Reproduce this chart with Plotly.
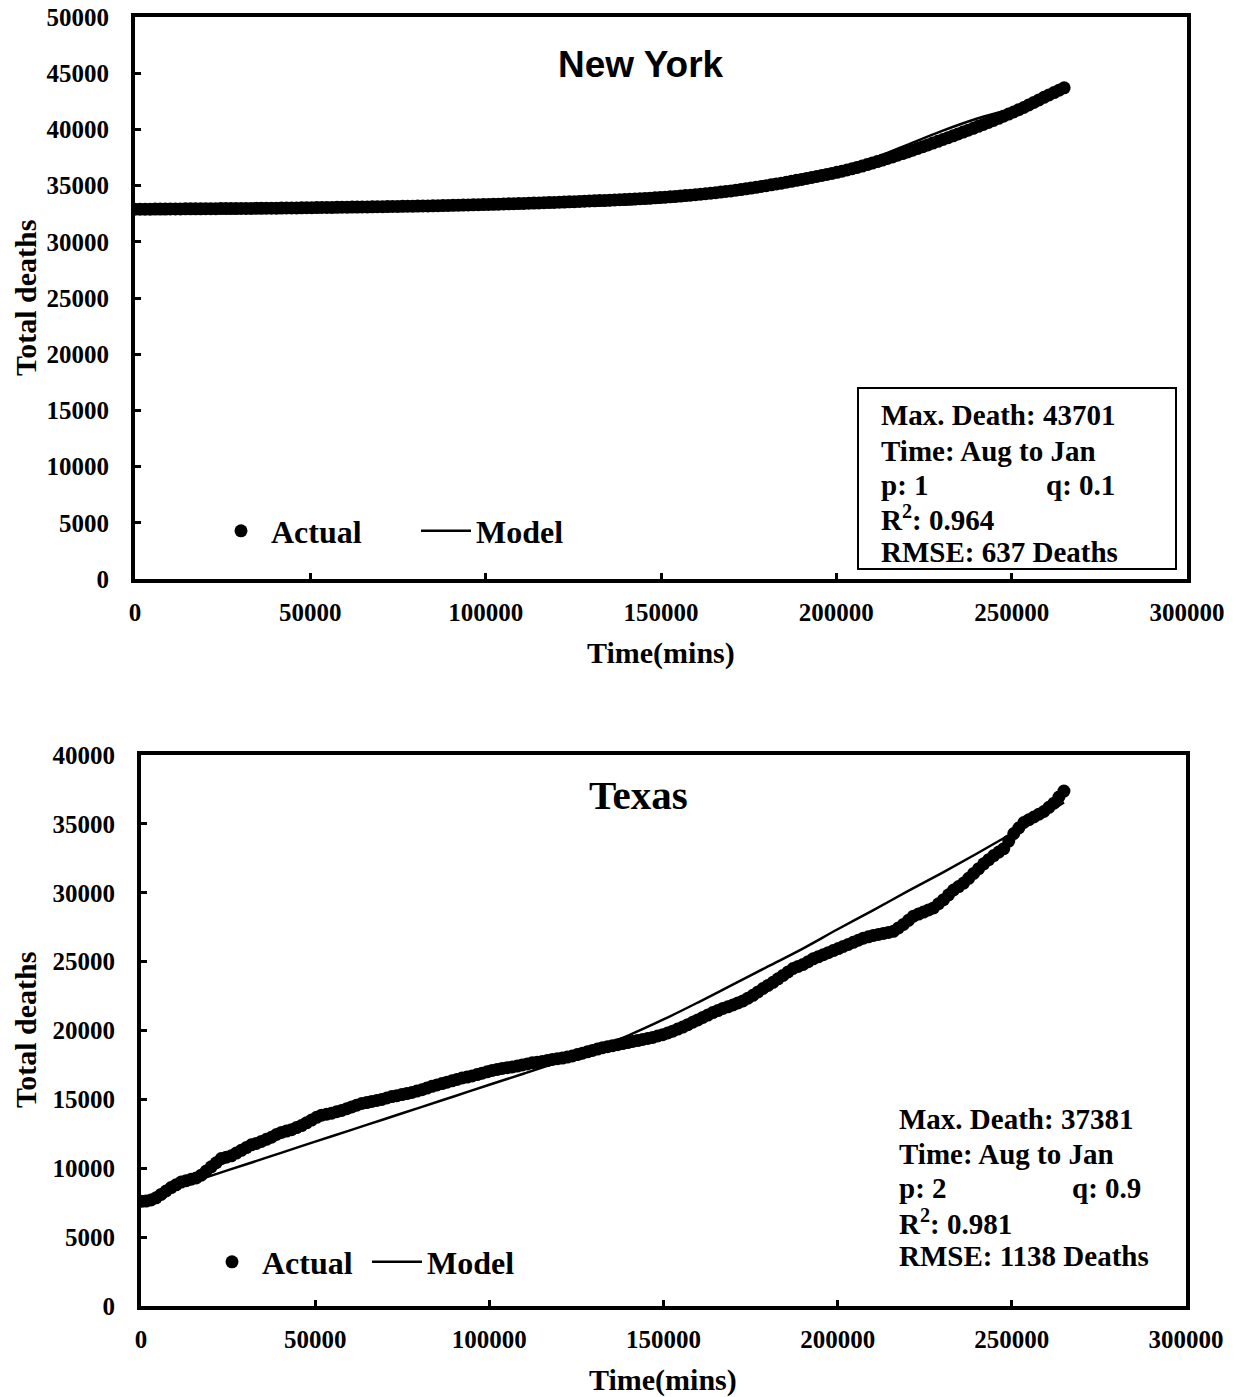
import plotly.graph_objects as go

# Daily sampling from August to January, time in minutes
days = list(range(0, 185))
time_mins = [d * 1440 for d in days]

ny_actual = [
    32900, 32902, 32905, 32907, 32910, 32912, 32915, 32917, 32920, 32925,
    32930, 32932, 32935, 32937, 32940, 32945, 32950, 32952, 32955, 32957,
    32960, 32965, 32970, 32972, 32975, 32980, 32985, 32990, 32995, 33000,
    33005, 33010, 33015, 33022, 33030, 33037, 33045, 33050, 33055, 33060,
    33065, 33072, 33080, 33085, 33090, 33097, 33105, 33112, 33120, 33127,
    33135, 33142, 33150, 33157, 33165, 33172, 33180, 33187, 33195, 33205,
    33215, 33225, 33235, 33245, 33255, 33267, 33280, 33290, 33300, 33312,
    33325, 33337, 33350, 33362, 33375, 33387, 33400, 33415, 33430, 33445,
    33460, 33475, 33490, 33505, 33520, 33537, 33555, 33572, 33590, 33610,
    33630, 33647, 33665, 33682, 33700, 33720, 33740, 33760, 33780, 33805,
    33830, 33855, 33880, 33910, 33940, 33970, 34000, 34035, 34070, 34110,
    34150, 34190, 34230, 34275, 34320, 34370, 34420, 34475, 34530, 34590,
    34650, 34715, 34780, 34850, 34920, 34995, 35070, 35145, 35220, 35300,
    35380, 35465, 35550, 35635, 35720, 35810, 35900, 35990, 36080, 36180,
    36280, 36390, 36500, 36620, 36740, 36870, 37000, 37135, 37270, 37410,
    37550, 37700, 37850, 38000, 38150, 38305, 38460, 38620, 38780, 38940,
    39100, 39265, 39430, 39595, 39760, 39930, 40100, 40270, 40440, 40620,
    40800, 40985, 41170, 41360, 41550, 41750, 41950, 42175, 42400, 42625,
    42850, 43065, 43280, 43490, 43701,
]

tx_actual = [
    7600, 7620, 7700, 7850, 8100, 8350, 8600, 8800, 9000, 9100,
    9200, 9300, 9500, 9800, 10100, 10400, 10700, 10800, 10900, 11100,
    11300, 11500, 11700, 11800, 11950, 12100, 12250, 12450, 12600, 12700,
    12800, 12950, 13100, 13300, 13500, 13700, 13850, 13920, 14000, 14100,
    14200, 14320, 14450, 14580, 14700, 14770, 14850, 14920, 15000, 15100,
    15200, 15270, 15350, 15420, 15500, 15600, 15700, 15820, 15950, 16050,
    16150, 16250, 16350, 16450, 16550, 16620, 16700, 16800, 16900, 17000,
    17100, 17170, 17250, 17300, 17350, 17420, 17500, 17570, 17650, 17700,
    17750, 17820, 17900, 17950, 18000, 18070, 18150, 18250, 18350, 18450,
    18550, 18650, 18750, 18820, 18900, 18970, 19050, 19120, 19200, 19270,
    19350, 19420, 19500, 19600, 19700, 19820, 19950, 20100, 20250, 20420,
    20600, 20770, 20950, 21120, 21300, 21450, 21600, 21720, 21850, 22000,
    22150, 22350, 22550, 22800, 23050, 23270, 23500, 23750, 24000, 24250,
    24500, 24650, 24800, 25000, 25200, 25350, 25500, 25650, 25800, 25950,
    26100, 26250, 26400, 26550, 26700, 26800, 26900, 26970, 27050, 27120,
    27200, 27450, 27700, 28000, 28300, 28450, 28600, 28750, 28900, 29200,
    29500, 29850, 30200, 30450, 30700, 31050, 31400, 31750, 32100, 32400,
    32700, 32950, 33200, 33750, 34300, 34700, 35100, 35300, 35500, 35700,
    35900, 36200, 36500, 36950, 37381,
]

model_time = [
    0, 10000, 20000, 30000, 40000, 50000, 60000, 70000, 80000, 90000,
    100000, 110000, 120000, 130000, 140000, 150000, 160000, 170000, 180000,
    190000, 200000, 210000, 220000, 230000, 240000, 250000, 260000, 265000,
]
ny_model = [
    32900, 32910, 32920, 32930, 32940, 32950, 32960, 32975, 32990, 33010,
    33040, 33080, 33140, 33220, 33340, 33520, 33800, 34200, 34750,
    35450, 36300, 37350, 38600, 39850, 40950, 41850, 42950, 43600,
]
tx_model = [
    7800, 8620, 9450, 10270, 11100, 11930, 12750, 13580, 14400, 15230,
    16060, 16880, 17730, 18650, 19650, 20800, 22050, 23350, 24650,
    25950, 27350, 28700, 30100, 31450, 32850, 34300, 35800, 36550,
]

x_ticks = [0, 50000, 100000, 150000, 200000, 250000, 300000]

panels = [
    dict(name="New York", actual=ny_actual, model=ny_model, p="1", q="0.1",
         r2="0.964", rmse="637", ymax=50000),
    dict(name="Texas", actual=tx_actual, model=tx_model, p="2", q="0.9",
         r2="0.981", rmse="1138", ymax=40000),
]

W, H = 1241, 1397
SERIF = "Liberation Serif, Times New Roman, serif"
SANS = "Liberation Sans, Arial, sans-serif"


def px(x):
    return x / W


def py(y):
    return 1 - y / H


fig = go.Figure()

# plot areas in page pixels: (left, top, right, bottom)
areas = [(135, 17, 1187, 579), (141, 755, 1186, 1306)]

for i, panel in enumerate(panels):
    xa = "x" if i == 0 else "x2"
    ya = "y" if i == 0 else "y2"
    leg = "legend" if i == 0 else "legend2"
    fig.add_trace(go.Scatter(
        x=time_mins, y=panel["actual"], mode="markers", name="Actual",
        marker=dict(color="black", size=13, line=dict(width=0)),
        xaxis=xa, yaxis=ya, legend=leg,
    ))
    fig.add_trace(go.Scatter(
        x=model_time, y=panel["model"], mode="lines", name="Model",
        line=dict(color="black", width=2.5, shape="spline"),
        xaxis=xa, yaxis=ya, legend=leg,
    ))

axis_common = dict(
    showline=True, linecolor="black", linewidth=4, mirror=True,
    ticks="inside", ticklen=6, tickwidth=3, tickcolor="black",
    showgrid=False, zeroline=False, tickformat="d", automargin=False,
    tickfont=dict(family=SERIF, size=25, color="black", weight="bold"),
)

l, t, r, b = areas[0]
fig.update_layout(
    xaxis=dict(axis_common, domain=[px(l), px(r)], range=[0, 300000],
               tickvals=x_ticks, anchor="y", ticklabelstandoff=8),
    yaxis=dict(axis_common, domain=[py(b), py(t)], range=[0, 50000],
               dtick=5000, anchor="x", ticklabelstandoff=17),
)
l, t, r, b = areas[1]
fig.update_layout(
    xaxis2=dict(axis_common, domain=[px(l), px(r)], range=[0, 300000],
                tickvals=x_ticks, anchor="y2", ticklabelstandoff=8),
    yaxis2=dict(axis_common, domain=[py(b), py(t)], range=[0, 40000],
                dtick=5000, anchor="x2", ticklabelstandoff=17),
)

legend_font = dict(family=SERIF, size=32, color="black", weight="bold")
fig.update_layout(
    legend=dict(orientation="h", x=px(211), y=py(531), xanchor="left",
                yanchor="middle", font=legend_font, bgcolor="rgba(0,0,0,0)",
                itemwidth=50, entrywidth=140, entrywidthmode="pixels"),
    legend2=dict(orientation="h", x=px(202), y=py(1262), xanchor="left",
                 yanchor="middle", font=legend_font, bgcolor="rgba(0,0,0,0)",
                 itemwidth=50, entrywidth=100, entrywidthmode="pixels"),
)

annotations = []
shapes = []


def centered(text, xc, yc, font, angle=0):
    return dict(text=text, x=px(xc), y=py(yc), xref="paper", yref="paper",
                xanchor="center", yanchor="middle", showarrow=False,
                textangle=angle, font=font)


# panel titles
annotations.append(centered("<b>New York</b>", 641, 64,
                            dict(family=SANS, size=37, color="black")))
annotations.append(centered("<b>Texas</b>", 639, 795,
                            dict(family=SERIF, size=41, color="black")))

# axis titles
title_font = dict(family=SERIF, size=30, color="black")
for xc, yc in [(661, 653), (663, 1380)]:
    annotations.append(centered("<b>Time(mins)</b>", xc, yc, title_font))
for yc in [298, 1030]:
    annotations.append(centered("<b>Total deaths</b>", 25, yc, title_font,
                                angle=-90))

# statistics blocks
info_font = dict(family=SERIF, size=29, color="black")
info_layout = [
    dict(x=879, qx=1044, ys=[415, 451, 485, 518, 552]),
    dict(x=897, qx=1070, ys=[1119, 1154, 1188, 1222, 1256]),
]
for panel, lay in zip(panels, info_layout):
    lines = [
        f"<b>Max. Death: {max(panel['actual'])}</b>",
        "<b>Time: Aug to Jan</b>",
        f"<b>p: {panel['p']}</b>",
        f"<b>R<sup>2</sup>: {panel['r2']}</b>",
        f"<b>RMSE: {panel['rmse']} Deaths</b>",
    ]
    for txt, yc in zip(lines, lay["ys"]):
        annotations.append(dict(text=txt, x=px(lay["x"]), y=py(yc),
                                xref="paper", yref="paper", xanchor="left",
                                yanchor="middle", showarrow=False,
                                font=info_font))
    annotations.append(dict(text=f"<b>q: {panel['q']}</b>", x=px(lay["qx"]),
                            y=py(lay["ys"][2]), xref="paper", yref="paper",
                            xanchor="left", yanchor="middle", showarrow=False,
                            font=info_font))

shapes.append(dict(type="rect", xref="paper", yref="paper",
                   x0=px(858), x1=px(1176), y0=py(569), y1=py(388),
                   line=dict(color="black", width=2),
                   fillcolor="rgba(0,0,0,0)"))

fig.update_layout(
    width=W, height=H, margin=dict(l=0, r=0, t=0, b=0),
    paper_bgcolor="white", plot_bgcolor="white",
    annotations=annotations, shapes=shapes, showlegend=True,
)

fig.write_html("out.html")
